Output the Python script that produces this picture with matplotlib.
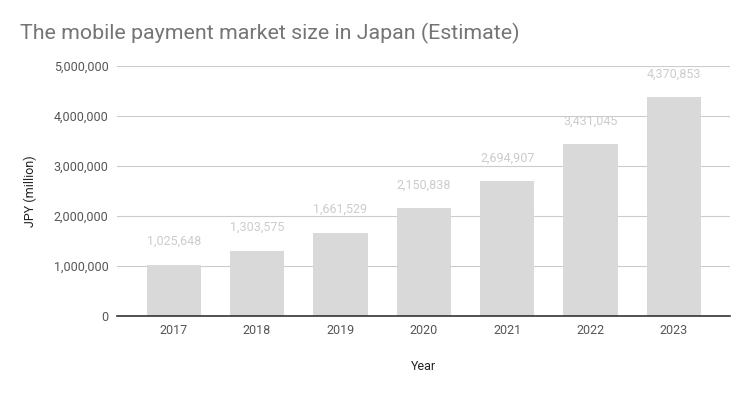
import matplotlib.pyplot as plt

plt.rcParams['font.family'] = ['Roboto', 'DejaVu Sans']

years = ['2017', '2018', '2019', '2020', '2021', '2022', '2023']
values = [1025648, 1303575, 1661529, 2150838, 2694907, 3431045, 4370853]
yticks = [0, 1000000, 2000000, 3000000, 4000000, 5000000]

fig = plt.figure(figsize=(7.5, 3.93), dpi=100)
ax = fig.add_axes([0.156, 0.196, 0.817, 0.636])

x = range(len(years))
ax.bar(x, values, width=0.65, color='#d9d9d9', zorder=2)

for i, v in enumerate(values):
    ax.annotate(f'{v:,}', (i, v), xytext=(0, 12), textcoords='offset points',
                ha='center', va='bottom', fontsize=9, color='#cccccc')

ax.set_xlim(-0.68, 6.67)
ax.set_ylim(0, 5000000)
ax.set_yticks(yticks)
ax.set_yticklabels([f'{t:,}' for t in yticks])
ax.set_xticks(list(x))
ax.set_xticklabels(years)
ax.grid(axis='y', color='#cccccc', linewidth=0.8, zorder=0)
for s in ['top', 'right', 'left']:
    ax.spines[s].set_visible(False)
ax.spines['bottom'].set_color('#333333')
ax.spines['bottom'].set_linewidth(1.2)
ax.spines['bottom'].set_zorder(3)
ax.tick_params(axis='both', length=0, labelsize=9, labelcolor='#555555')
ax.tick_params(axis='y', pad=6)
ax.tick_params(axis='x', pad=6)

ax.set_xlabel('Year', fontsize=9, color='#222222', labelpad=16)
ax.set_ylabel('JPY (million)', fontsize=9, color='#222222', labelpad=12)

fig.text(0.027, 0.915, 'The mobile payment market size in Japan (Estimate)',
         fontsize=15.4, color='#757575', ha='left', va='center')

fig.savefig('out.png', dpi=100)
